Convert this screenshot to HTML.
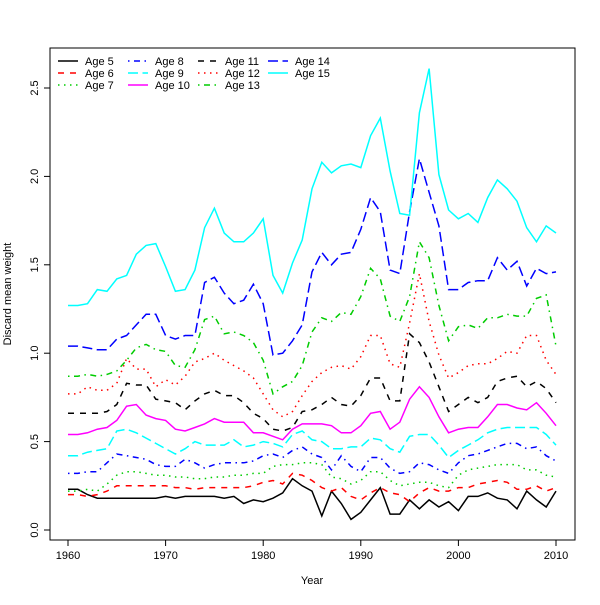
<!DOCTYPE html>
<html><head><meta charset="utf-8"><style>
body{margin:0;background:#fff}
svg text{font-family:"Liberation Sans",sans-serif;font-size:11px;fill:#000}
</style></head><body>
<svg id="chart" width="600" height="600" viewBox="0 0 600 600" xmlns="http://www.w3.org/2000/svg">
<rect x="50" y="48" width="525" height="492" fill="none" stroke="#000" stroke-width="1"/>
<g id="axes"></g>
<g id="series"></g>
<g id="legend"></g>
<text x="312" y="584" text-anchor="middle">Year</text>
<text transform="translate(11,294) rotate(-90)" text-anchor="middle">Discard mean weight</text>
</svg>
<script>
const years=[];for(let y=1960;y<=2010;y++)years.push(y);
const xTicks=[1960,1970,1980,1990,2000,2010];
const yTicks=[0,0.5,1,1.5,2,2.5];
const yTickLabels=["0.0","0.5","1.0","1.5","2.0","2.5"];
const seriesNames=["Age 5","Age 6","Age 7","Age 8","Age 9","Age 10","Age 11","Age 12","Age 13","Age 14","Age 15"];
const age5=[0.23,0.23,0.20,0.18,0.18,0.18,0.18,0.18,0.18,0.18,0.19,0.18,0.19,0.19,0.19,0.19,0.18,0.19,0.15,0.17,0.16,0.18,0.21,0.29,0.25,0.22,0.08,0.22,0.15,0.06,0.10,0.17,0.24,0.09,0.09,0.17,0.12,0.17,0.13,0.16,0.11,0.19,0.19,0.21,0.18,0.17,0.12,0.22,0.17,0.13,0.22];
const age6=[0.20,0.20,0.19,0.20,0.22,0.25,0.25,0.25,0.25,0.25,0.25,0.24,0.24,0.23,0.24,0.24,0.24,0.24,0.24,0.25,0.27,0.28,0.26,0.32,0.31,0.28,0.24,0.22,0.24,0.19,0.17,0.21,0.24,0.21,0.20,0.16,0.21,0.24,0.22,0.22,0.24,0.24,0.26,0.27,0.28,0.27,0.23,0.23,0.25,0.22,0.24];
const age7=[0.22,0.22,0.23,0.22,0.26,0.31,0.33,0.33,0.32,0.31,0.31,0.30,0.30,0.29,0.29,0.30,0.30,0.31,0.31,0.32,0.32,0.36,0.37,0.37,0.38,0.38,0.37,0.30,0.29,0.26,0.28,0.33,0.33,0.28,0.25,0.26,0.27,0.27,0.25,0.24,0.31,0.34,0.35,0.36,0.37,0.37,0.37,0.34,0.34,0.31,0.30];
const age8=[0.32,0.32,0.33,0.33,0.38,0.43,0.42,0.41,0.40,0.37,0.36,0.36,0.40,0.38,0.35,0.37,0.38,0.38,0.38,0.39,0.42,0.43,0.41,0.45,0.47,0.43,0.41,0.34,0.42,0.36,0.33,0.41,0.41,0.35,0.32,0.33,0.38,0.37,0.34,0.32,0.38,0.42,0.43,0.45,0.47,0.49,0.49,0.46,0.47,0.42,0.39];
const age9=[0.42,0.42,0.44,0.45,0.46,0.56,0.57,0.55,0.52,0.49,0.46,0.43,0.46,0.50,0.48,0.48,0.48,0.51,0.47,0.48,0.50,0.49,0.47,0.54,0.56,0.51,0.50,0.46,0.46,0.47,0.47,0.52,0.51,0.46,0.44,0.53,0.54,0.54,0.48,0.41,0.45,0.48,0.51,0.55,0.57,0.58,0.58,0.58,0.58,0.54,0.48];
const age10=[0.54,0.54,0.55,0.57,0.58,0.62,0.70,0.71,0.65,0.63,0.62,0.57,0.56,0.58,0.60,0.63,0.61,0.61,0.61,0.55,0.55,0.53,0.51,0.57,0.60,0.60,0.60,0.59,0.55,0.55,0.59,0.66,0.67,0.57,0.61,0.74,0.81,0.75,0.64,0.55,0.57,0.58,0.58,0.64,0.71,0.71,0.69,0.68,0.72,0.66,0.59];
const age11=[0.66,0.66,0.66,0.66,0.67,0.71,0.83,0.82,0.82,0.74,0.73,0.72,0.68,0.73,0.77,0.79,0.76,0.76,0.72,0.66,0.63,0.57,0.56,0.58,0.67,0.68,0.71,0.75,0.71,0.70,0.76,0.86,0.86,0.73,0.73,1.11,1.06,0.95,0.81,0.67,0.71,0.75,0.72,0.75,0.84,0.86,0.87,0.81,0.84,0.80,0.72];
const age12=[0.77,0.77,0.81,0.79,0.79,0.83,0.97,0.91,0.91,0.81,0.85,0.82,0.87,0.95,0.97,1.00,0.96,0.93,0.90,0.86,0.77,0.68,0.64,0.67,0.76,0.84,0.89,0.92,0.93,0.91,0.98,1.10,1.10,0.94,0.92,1.17,1.45,1.18,0.99,0.86,0.89,0.93,0.94,0.94,0.97,1.01,1.00,1.10,1.10,0.96,0.88];
const age13=[0.87,0.87,0.88,0.87,0.88,0.90,0.96,1.03,1.05,1.02,1.01,0.93,0.92,1.02,1.19,1.21,1.11,1.12,1.10,1.06,0.96,0.77,0.81,0.84,0.93,1.12,1.20,1.18,1.23,1.22,1.32,1.48,1.42,1.21,1.18,1.32,1.63,1.54,1.27,1.07,1.15,1.16,1.14,1.20,1.20,1.22,1.21,1.21,1.31,1.33,1.04];
const age14=[1.04,1.04,1.03,1.02,1.02,1.08,1.10,1.16,1.22,1.22,1.10,1.08,1.10,1.10,1.40,1.43,1.34,1.28,1.30,1.39,1.28,0.99,1.00,1.07,1.16,1.46,1.57,1.50,1.56,1.57,1.70,1.88,1.80,1.47,1.45,1.80,2.10,1.91,1.72,1.36,1.36,1.40,1.41,1.41,1.54,1.47,1.52,1.38,1.48,1.45,1.46];
const age15=[1.27,1.27,1.28,1.36,1.35,1.42,1.44,1.56,1.61,1.62,1.49,1.35,1.36,1.47,1.71,1.82,1.68,1.63,1.63,1.68,1.76,1.44,1.34,1.51,1.64,1.93,2.08,2.02,2.06,2.07,2.05,2.23,2.33,2.03,1.79,1.78,2.36,2.61,2.01,1.81,1.76,1.79,1.74,1.88,1.98,1.93,1.86,1.71,1.63,1.72,1.68];
const allSeries=[age5,age6,age7,age8,age9,age10,age11,age12,age13,age14,age15];
const colors=["#000","#f00","#0c0","#00f","#0ff","#f0f"];
const dashes=["none","6 6","1.5 4.5","1.5 4.5 6 4.5","10 4.5"];
const NS="http://www.w3.org/2000/svg";
const xs=v=>68+(v-1960)*(556-68)/50;
const ys=v=>530-v*176.8;
function mk(tag,attrs,parent){const e=document.createElementNS(NS,tag);for(const k in attrs)e.setAttribute(k,attrs[k]);parent.appendChild(e);return e;}
const axes=document.getElementById('axes');
mk('line',{x1:xs(1960),x2:xs(2010),y1:540,y2:540,stroke:'#000'},axes);
xTicks.forEach(t=>{
  const l=mk('line',{x1:xs(t),x2:xs(t),y1:540,y2:546,stroke:'#000'},axes);
  
  
  const tx=mk('text',{x:xs(t),y:559,'text-anchor':'middle'},axes);tx.textContent=t;
  
  
});
mk('line',{x1:50,x2:50,y1:ys(0),y2:ys(2.5),stroke:'#000'},axes);
yTicks.forEach((t,i)=>{
  const l=mk('line',{x1:44,x2:50,y1:ys(t),y2:ys(t),stroke:'#000'},axes);
  
  
  const tx=mk('text',{transform:`translate(38,${ys(t)}) rotate(-90)`,'text-anchor':'middle'},axes);tx.textContent=yTickLabels[i];
  
  
});
const sg=document.getElementById('series');
allSeries.forEach((s,i)=>{
  const d=s.map((v,j)=>(j?'L':'M')+xs(years[j]).toFixed(1)+','+ys(v).toFixed(1)).join('');
  const p=mk('path',{d:d,fill:'none',stroke:colors[i%6],'stroke-width':1.5,'stroke-dasharray':dashes[i%5]},sg);
  
  
});
const lg=document.getElementById('legend');
seriesNames.forEach((n,i)=>{
  const col=Math.floor(i/3),row=i%3;
  const x0=58+col*70,y0=61+row*12;
  const g=mk('g',{},lg);
  
  
  mk('line',{x1:x0,x2:x0+20,y1:y0,y2:y0,stroke:colors[i%6],'stroke-width':1.5,'stroke-dasharray':dashes[i%5]},g);
  const t=mk('text',{x:x0+27,y:y0+4},g);t.textContent=n;
});
</script>
</body></html>
